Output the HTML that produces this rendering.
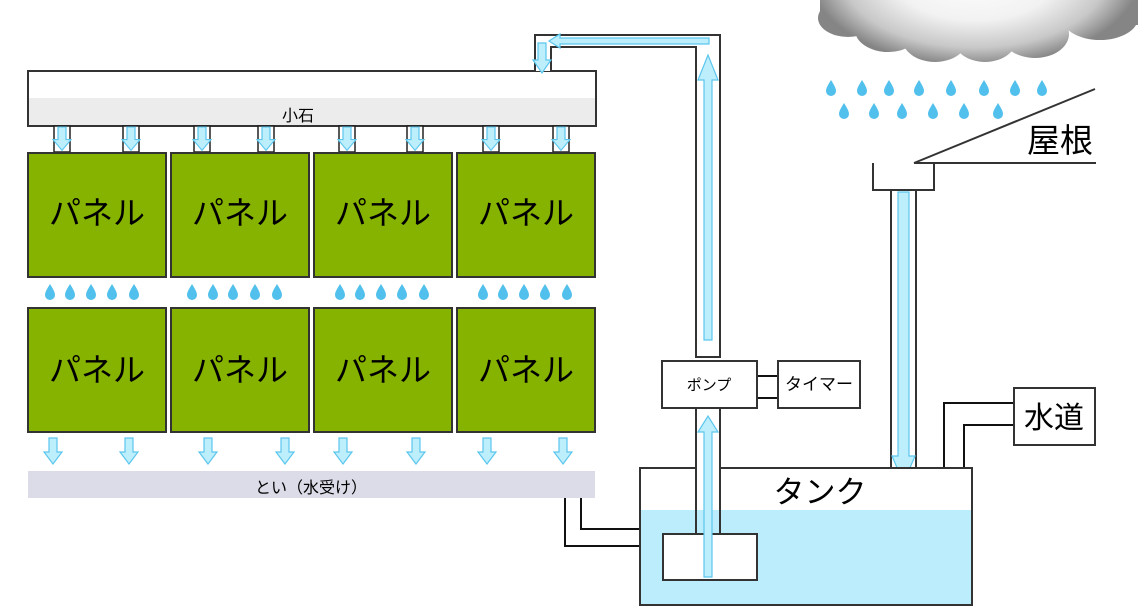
<!DOCTYPE html>
<html><head><meta charset="utf-8"><style>
html,body{margin:0;padding:0;background:#fff;}
svg{display:block;font-family:"Liberation Sans","Noto Sans CJK JP",sans-serif;}
</style></head><body>
<svg width="1140" height="615" viewBox="0 0 1140 615" xmlns="http://www.w3.org/2000/svg">
<defs>
<radialGradient id="cg" gradientUnits="userSpaceOnUse" cx="975" cy="-25" r="165" gradientTransform="translate(975,-25) scale(1,0.55) translate(-975,25)">
<stop offset="0" stop-color="#ffffff"/><stop offset="0.5" stop-color="#f2f2f2"/><stop offset="0.8" stop-color="#c8c8c8"/><stop offset="1" stop-color="#858585"/>
</radialGradient>
<g id="drop"><path d="M0,-8 C3,-3 5,0 5,3 A5,5 0 0 1 -5,3 C-5,0 -3,-3 0,-8Z" fill="#52c0ec"/></g>
<g id="da"><path d="M-4,0 H4 V14 H9 L0,26 L-9,14 H-4Z" fill="#bdeefc" stroke="#5bc6ee" stroke-width="1.2"/></g>
</defs>
<!-- cloud -->
<g fill="url(#cg)">
<rect x="820" y="-10" width="318" height="35"/>
<ellipse cx="848" cy="18" rx="30" ry="19"/>
<ellipse cx="888" cy="30" rx="33" ry="22"/>
<ellipse cx="935" cy="38" rx="33" ry="24"/>
<ellipse cx="985" cy="38" rx="32" ry="24"/>
<ellipse cx="1035" cy="34" rx="34" ry="24"/>
<ellipse cx="1100" cy="18" rx="38" ry="22"/>
</g>
<!-- rain drops -->
<g>
<use href="#drop" x="831" y="88"/><use href="#drop" x="862" y="88"/><use href="#drop" x="889" y="88"/><use href="#drop" x="919" y="88"/><use href="#drop" x="951" y="88"/><use href="#drop" x="984" y="88"/><use href="#drop" x="1015" y="88"/><use href="#drop" x="1042" y="88"/>
<use href="#drop" x="844" y="111"/><use href="#drop" x="874" y="111"/><use href="#drop" x="902" y="111"/><use href="#drop" x="933" y="111"/><use href="#drop" x="964" y="111"/><use href="#drop" x="998" y="111"/>
</g>
<!-- roof -->
<g stroke="#333" stroke-width="2" fill="none">
<path d="M914,163 L1095,89"/><path d="M914,163 H1096"/>
<path d="M873,163 V190 H934 V163"/>
</g>
<text x="1060" y="152" font-size="33" text-anchor="middle" fill="#000">屋根</text>
<!-- rain pipe -->
<rect x="891" y="190" width="25" height="278" fill="#fff" stroke="#333" stroke-width="2"/>
<path d="M898,192 H909 V456 H915 L903.5,483 L892,456 H898Z" fill="#bdeefc" stroke="#5bc6ee" stroke-width="1.2"/>
<!-- stone -->
<rect x="28" y="71" width="568" height="55" fill="#fff" stroke="#333" stroke-width="2"/>
<rect x="29" y="98" width="566" height="27" fill="#ececec"/>
<text x="298" y="121" font-size="16" text-anchor="middle">小石</text>
<!-- top pipe -->
<path d="M535,71 V35 H720 V357 H696 V47 H551 V71" fill="#fff" stroke="#333" stroke-width="2"/>
<path d="M709,38 V44 H560 V48 L549,41 L560,34 V38Z" fill="#bdeefc" stroke="#5bc6ee" stroke-width="1.2"/>
<path d="M538,43 H546 V60 H551 L542,73 L533,60 H538Z" fill="#bdeefc" stroke="#5bc6ee" stroke-width="1.2"/>
<path d="M704,340 H712 V80 H718 L708,55 L698,80 H704Z" fill="#bdeefc" stroke="#5bc6ee" stroke-width="1.2"/>
<!-- small connectors -->
<g fill="#fff" stroke="#222" stroke-width="1.5">
<rect x="54" y="126" width="16" height="26"/><rect x="123" y="126" width="16" height="26"/>
<rect x="194" y="126" width="16" height="26"/><rect x="258" y="126" width="16" height="26"/>
<rect x="339" y="126" width="16" height="26"/><rect x="407" y="126" width="16" height="26"/>
<rect x="483" y="126" width="16" height="26"/><rect x="553" y="126" width="16" height="26"/>
</g>
<g transform="translate(0,127) scale(1,0.9)">
<use href="#da" x="62"/><use href="#da" x="131"/><use href="#da" x="202"/><use href="#da" x="266"/><use href="#da" x="347"/><use href="#da" x="415"/><use href="#da" x="491"/><use href="#da" x="561"/>
</g>
<!-- panels -->
<g fill="#86b200" stroke="#333" stroke-width="2">
<rect x="28" y="153" width="138" height="124"/><rect x="171" y="153" width="138" height="124"/><rect x="314" y="153" width="138" height="124"/><rect x="457" y="153" width="138" height="124"/>
<rect x="28" y="308" width="138" height="124"/><rect x="171" y="308" width="138" height="124"/><rect x="314" y="308" width="138" height="124"/><rect x="457" y="308" width="138" height="124"/>
</g>
<g font-size="32" text-anchor="middle" fill="#000">
<text x="97" y="224">パネル</text><text x="240" y="224">パネル</text><text x="383" y="224">パネル</text><text x="526" y="224">パネル</text>
<text x="97" y="381">パネル</text><text x="240" y="381">パネル</text><text x="383" y="381">パネル</text><text x="526" y="381">パネル</text>
</g>
<g>
<use href="#drop" x="50" y="292"/><use href="#drop" x="70" y="292"/><use href="#drop" x="91" y="292"/><use href="#drop" x="112" y="292"/><use href="#drop" x="134" y="292"/>
<use href="#drop" x="192" y="292"/><use href="#drop" x="213" y="292"/><use href="#drop" x="233" y="292"/><use href="#drop" x="255" y="292"/><use href="#drop" x="277" y="292"/>
<use href="#drop" x="340" y="292"/><use href="#drop" x="360" y="292"/><use href="#drop" x="381" y="292"/><use href="#drop" x="402" y="292"/><use href="#drop" x="424" y="292"/>
<use href="#drop" x="483" y="292"/><use href="#drop" x="503" y="292"/><use href="#drop" x="524" y="292"/><use href="#drop" x="545" y="292"/><use href="#drop" x="567" y="292"/>
</g>
<g transform="translate(0,438)">
<use href="#da" x="53"/><use href="#da" x="129"/><use href="#da" x="208"/><use href="#da" x="285"/><use href="#da" x="343"/><use href="#da" x="416"/><use href="#da" x="487"/><use href="#da" x="563"/>
</g>
<!-- gutter -->
<rect x="28" y="471" width="567" height="27" fill="#dcdce8"/>
<text x="311" y="493" font-size="16" text-anchor="middle">とい（水受け）</text>
<g stroke="#111" stroke-width="2" fill="none">
<path d="M565,498 V546 H640"/><path d="M581,498 V529 H640"/>
<path d="M1014,403 H944 V468"/><path d="M1014,425 H964 V468"/>
<path d="M757,376 H778"/><path d="M757,398 H778"/>
</g>
<!-- tank -->
<rect x="640" y="468" width="332" height="137" fill="#fff" stroke="#333" stroke-width="2"/>
<rect x="641" y="510" width="330" height="94" fill="#bbedfc"/>
<text x="820" y="503" font-size="31" text-anchor="middle">タンク</text>
<path d="M696,408 V534 M720,408 V534" stroke="#333" stroke-width="2"/>
<rect x="697" y="408" width="22" height="102" fill="#fff"/>
<rect x="663" y="534" width="94" height="46" fill="#fff" stroke="#333" stroke-width="2"/>
<path d="M704,577 H712 V432 H718 L708,416 L698,432 H704Z" fill="#bdeefc" stroke="#5bc6ee" stroke-width="1.2"/>
<!-- pump, timer, tap -->
<rect x="662" y="361" width="95" height="47" fill="#fff" stroke="#333" stroke-width="2"/>
<text x="709" y="390" font-size="15" text-anchor="middle">ポンプ</text>
<rect x="778" y="361" width="82" height="47" fill="#fff" stroke="#333" stroke-width="2"/>
<text x="819" y="390" font-size="17" text-anchor="middle">タイマー</text>
<rect x="1014" y="388" width="81" height="57" fill="#fff" stroke="#333" stroke-width="2"/>
<text x="1054" y="428" font-size="30" text-anchor="middle">水道</text>
</svg>
</body></html>
